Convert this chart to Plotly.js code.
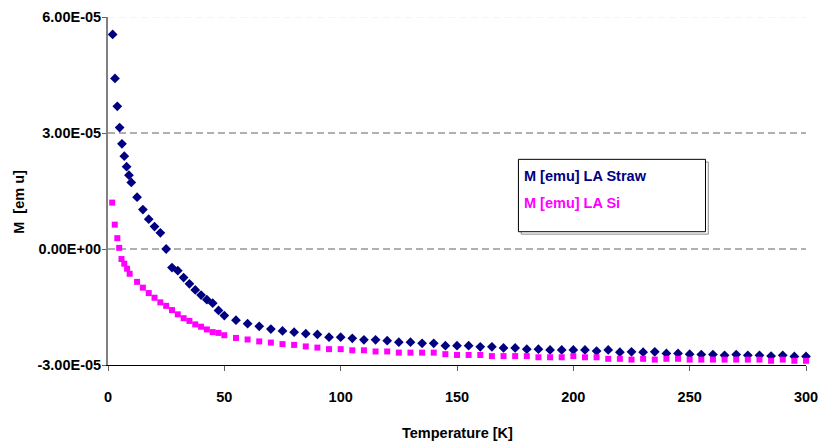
<!DOCTYPE html>
<html>
<head>
<meta charset="utf-8">
<script src="https://cdn.plot.ly/plotly-3.0.1.min.js"></script>
<style>
  html, body { margin: 0; padding: 0; background: #ffffff; }
  #chart { width: 819px; height: 444px; }
</style>
</head>
<body>
<div id="chart"></div>
<script>
// ---- data ----
const strawT = [2, 3, 4, 5, 6, 7, 8, 9, 10,
  12.5, 15, 17.5, 20, 22.5, 25, 27.5, 30, 32.5, 35, 37.5, 40, 42.5, 45, 47.5, 50,
  55, 60, 65, 70, 75, 80, 85, 90, 95, 100, 105, 110, 115, 120, 125, 130, 135, 140,
  145, 150, 155, 160, 165, 170, 175, 180, 185, 190, 195, 200, 205, 210, 215, 220,
  225, 230, 235, 240, 245, 250, 255, 260, 265, 270, 275, 280, 285, 290, 295, 300];
const strawM = [5.55e-5, 4.41e-5, 3.69e-5, 3.14e-5, 2.72e-5, 2.40e-5, 2.13e-5, 1.91e-5, 1.72e-5,
  1.34e-5, 1.02e-5, 0.77e-5, 0.58e-5, 0.42e-5, 0.00e-5, -0.48e-5, -0.56e-5, -0.74e-5, -0.90e-5,
  -1.06e-5, -1.19e-5, -1.31e-5, -1.40e-5, -1.59e-5, -1.72e-5,
  -1.84e-5, -1.93e-5, -2.00e-5, -2.07e-5, -2.12e-5, -2.15e-5, -2.19e-5, -2.21e-5, -2.28e-5, -2.28e-5,
  -2.31e-5, -2.35e-5, -2.35e-5, -2.37e-5, -2.41e-5, -2.41e-5, -2.44e-5, -2.44e-5, -2.50e-5, -2.50e-5,
  -2.50e-5, -2.53e-5, -2.53e-5, -2.56e-5, -2.56e-5, -2.59e-5, -2.59e-5, -2.61e-5, -2.61e-5, -2.61e-5,
  -2.61e-5, -2.64e-5, -2.61e-5, -2.67e-5, -2.66e-5, -2.67e-5, -2.66e-5, -2.70e-5, -2.70e-5, -2.72e-5,
  -2.73e-5, -2.73e-5, -2.75e-5, -2.73e-5, -2.75e-5, -2.75e-5, -2.77e-5, -2.75e-5, -2.78e-5, -2.78e-5];

const siT = [1.8, 2.9, 4, 4.8, 5.8, 7, 8.2, 9.3,
  12.5, 15, 17.5, 20, 22.5, 25, 27.5, 30, 32.5, 35, 37.5, 40, 42.5, 45, 47.5, 50,
  55, 60, 65, 70, 75, 80, 85, 90, 95, 100, 105, 110, 115, 120, 125, 130, 135, 140,
  145, 150, 155, 160, 165, 170, 175, 180, 185, 190, 195, 200, 205, 210, 215, 220,
  225, 230, 235, 240, 245, 250, 255, 260, 265, 270, 275, 280, 285, 290, 295, 300];
const siM = [1.20e-5, 0.63e-5, 0.28e-5, 0.03e-5, -0.26e-5, -0.38e-5, -0.51e-5, -0.64e-5,
  -0.85e-5, -1.00e-5, -1.14e-5, -1.26e-5, -1.38e-5, -1.47e-5, -1.58e-5, -1.69e-5, -1.79e-5, -1.86e-5,
  -1.95e-5, -2.01e-5, -2.08e-5, -2.15e-5, -2.17e-5, -2.23e-5,
  -2.30e-5, -2.34e-5, -2.39e-5, -2.42e-5, -2.46e-5, -2.48e-5, -2.52e-5, -2.55e-5, -2.59e-5, -2.59e-5,
  -2.62e-5, -2.62e-5, -2.65e-5, -2.65e-5, -2.68e-5, -2.68e-5, -2.68e-5, -2.68e-5, -2.72e-5, -2.74e-5,
  -2.74e-5, -2.74e-5, -2.77e-5, -2.77e-5, -2.77e-5, -2.77e-5, -2.80e-5, -2.80e-5, -2.80e-5, -2.77e-5,
  -2.80e-5, -2.80e-5, -2.84e-5, -2.84e-5, -2.86e-5, -2.84e-5, -2.86e-5, -2.84e-5, -2.84e-5, -2.86e-5,
  -2.86e-5, -2.86e-5, -2.86e-5, -2.86e-5, -2.86e-5, -2.86e-5, -2.89e-5, -2.86e-5, -2.89e-5, -2.89e-5];

const seriesNames = ["M [emu] LA Straw", "M [emu] LA Si"];
const yTitle = "M\u00a0 [em u]";
const xTitle = "Temperature [K]";
const yTickVals = [-3e-5, 0, 3e-5, 6e-5];
const yTickText = ["-3.00E-05", "0.00E+00", "3.00E-05", "6.00E-05"];
const xTickVals = [0, 50, 100, 150, 200, 250, 300];
const xTickText = ["0", "50", "100", "150", "200", "250", "300"];
const gridValues = [0, 3e-5];
const faintGridValues = [6e-5];

// ---- styling ----
const FONT = "'Liberation Sans', Arial, sans-serif";
const FS = 14.5;
const NAVY = "#000080";
const MAGENTA = "#FF00FF";

const traces = [
  {
    x: strawT, y: strawM, name: seriesNames[0], type: "scatter", mode: "markers",
    marker: { symbol: "diamond", size: 7.5, color: NAVY },
    cliponaxis: false
  },
  {
    x: siT, y: siM, name: seriesNames[1], type: "scatter", mode: "markers",
    marker: { symbol: "square", size: 6, color: MAGENTA },
    cliponaxis: false
  }
];

const shapes = [];
gridValues.forEach(v => shapes.push({
  type: "line", xref: "paper", yref: "y", x0: 0, x1: 1, y0: v, y1: v,
  line: { color: "#606060", width: 1, dash: "7px,4px" }, layer: "below"
}));
faintGridValues.forEach(v => shapes.push({
  type: "line", xref: "paper", yref: "y", x0: 0, x1: 1, y0: v, y1: v,
  line: { color: "#ececec", width: 1, dash: "7px,4px" }, layer: "below"
}));
// legend box with shadow
shapes.push({
  type: "rect", xref: "paper", yref: "paper", x0: 0.592, x1: 0.860, y0: 0.376, y1: 0.583,
  line: { color: "#8a8a8a", width: 1 }, fillcolor: "rgba(0,0,0,0)"
});
shapes.push({
  type: "rect", xref: "paper", yref: "paper", x0: 0.588, x1: 0.856, y0: 0.383, y1: 0.591,
  line: { color: "#000000", width: 1 }, fillcolor: "#ffffff"
});

const annotations = [
  { text: seriesNames[0], xref: "paper", yref: "paper", x: 0.5935, y: 0.543,
    xanchor: "left", yanchor: "middle", showarrow: false,
    font: { family: FONT, size: FS, color: NAVY, weight: 700 } },
  { text: seriesNames[1], xref: "paper", yref: "paper", x: 0.5935, y: 0.465,
    xanchor: "left", yanchor: "middle", showarrow: false,
    font: { family: FONT, size: FS, color: MAGENTA, weight: 700 } },
  { text: xTitle, xref: "paper", yref: "paper", x: 0.5, y: -0.195,
    xanchor: "center", yanchor: "middle", showarrow: false,
    font: { family: FONT, size: FS, color: "#000000", weight: 700 } },
  { text: yTitle, xref: "paper", yref: "paper", x: -0.127, y: 0.47,
    xanchor: "center", yanchor: "middle", showarrow: false, textangle: -90,
    font: { family: FONT, size: FS, color: "#000000", weight: 700 } }
];

const layout = {
  width: 819, height: 444,
  margin: { l: 108, r: 13, t: 17, b: 79, pad: 0 },
  paper_bgcolor: "#ffffff", plot_bgcolor: "#ffffff",
  showlegend: false,
  font: { family: FONT, size: FS, color: "#000000", weight: 700 },
  xaxis: {
    range: [0, 300], tickvals: xTickVals, ticktext: xTickText,
    showgrid: false, zeroline: false,
    showline: true, linecolor: "#000000", linewidth: 1,
    ticks: "outside", ticklen: 5, tickcolor: "#606060", tickwidth: 1,
    ticklabelstandoff: 14, ticklabeloverflow: "allow",
    tickfont: { family: FONT, size: FS, color: "#000000", weight: 700 }
  },
  yaxis: {
    range: [-3e-5, 6e-5], tickvals: yTickVals, ticktext: yTickText,
    showgrid: false, zeroline: false,
    showline: true, linecolor: "#808080", linewidth: 2,
    ticks: "outside", ticklen: 4, tickcolor: "#606060", tickwidth: 1,
    ticklabelstandoff: -2, ticklabeloverflow: "allow",
    tickfont: { family: FONT, size: FS, color: "#000000", weight: 700 }
  },
  shapes: shapes,
  annotations: annotations
};

Plotly.newPlot("chart", traces, layout, { staticPlot: true, displayModeBar: false });
</script>
</body>
</html>
